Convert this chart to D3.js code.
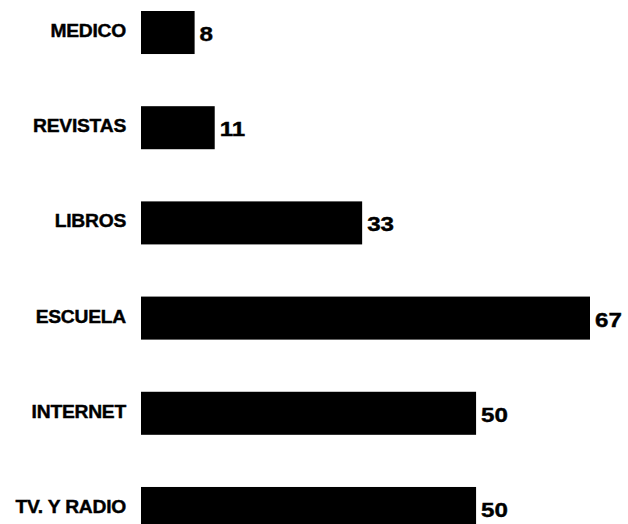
<!DOCTYPE html>
<html>
<head>
<meta charset="utf-8">
<script src="https://cdn.jsdelivr.net/npm/d3@7"></script>
<style>
  html, body { margin: 0; padding: 0; background: #ffffff; }
  svg { display: block; }
  text { font-family: "Liberation Sans", Arial, sans-serif; font-weight: bold; fill: #000; stroke: #000; stroke-width: 0.4px; }
</style>
</head>
<body>
<svg id="chart" width="628" height="524"></svg>
<script>
// Fuentes de información: número de menciones por fuente
const categories = ["MEDICO", "REVISTAS", "LIBROS", "ESCUELA", "INTERNET", "TV. Y RADIO"];
const values = [8, 11, 33, 67, 50, 50];

const svg = d3.select("#chart");

const x = d3.scaleLinear().domain([0, 67]).range([141, 590]);
const y = d3.scaleBand()
  .domain(categories)
  .range([11, 530])
  .paddingInner(0.548)
  .paddingOuter(0);

const rows = categories.map((c, i) => ({ cat: c, val: values[i] }));

// Barras
svg.append("g")
  .selectAll("rect")
  .data(rows)
  .join("rect")
  .attr("x", x(0))
  .attr("y", d => y(d.cat))
  .attr("width", d => x(d.val) - x(0))
  .attr("height", y.bandwidth())
  .attr("fill", "#000");

// Etiquetas de categoría (tipografía ensanchada)
svg.append("g")
  .selectAll("text")
  .data(rows)
  .join("text")
  .attr("transform", d => `translate(126,${y(d.cat) + y.bandwidth() / 2 + 4.5}) scale(1.1,1)`)
  .attr("text-anchor", "end")
  .style("font-size", "17.5px")
  .style("letter-spacing", "-0.2px")
  .text(d => d.cat);

// Valores
svg.append("g")
  .selectAll("text")
  .data(rows)
  .join("text")
  .attr("transform", d => `translate(${x(d.val) + 5},${y(d.cat) + y.bandwidth() / 2 + 8.5}) scale(1.15,1)`)
  .style("font-size", "21px")
  .text(d => d.val);
</script>
</body>
</html>
